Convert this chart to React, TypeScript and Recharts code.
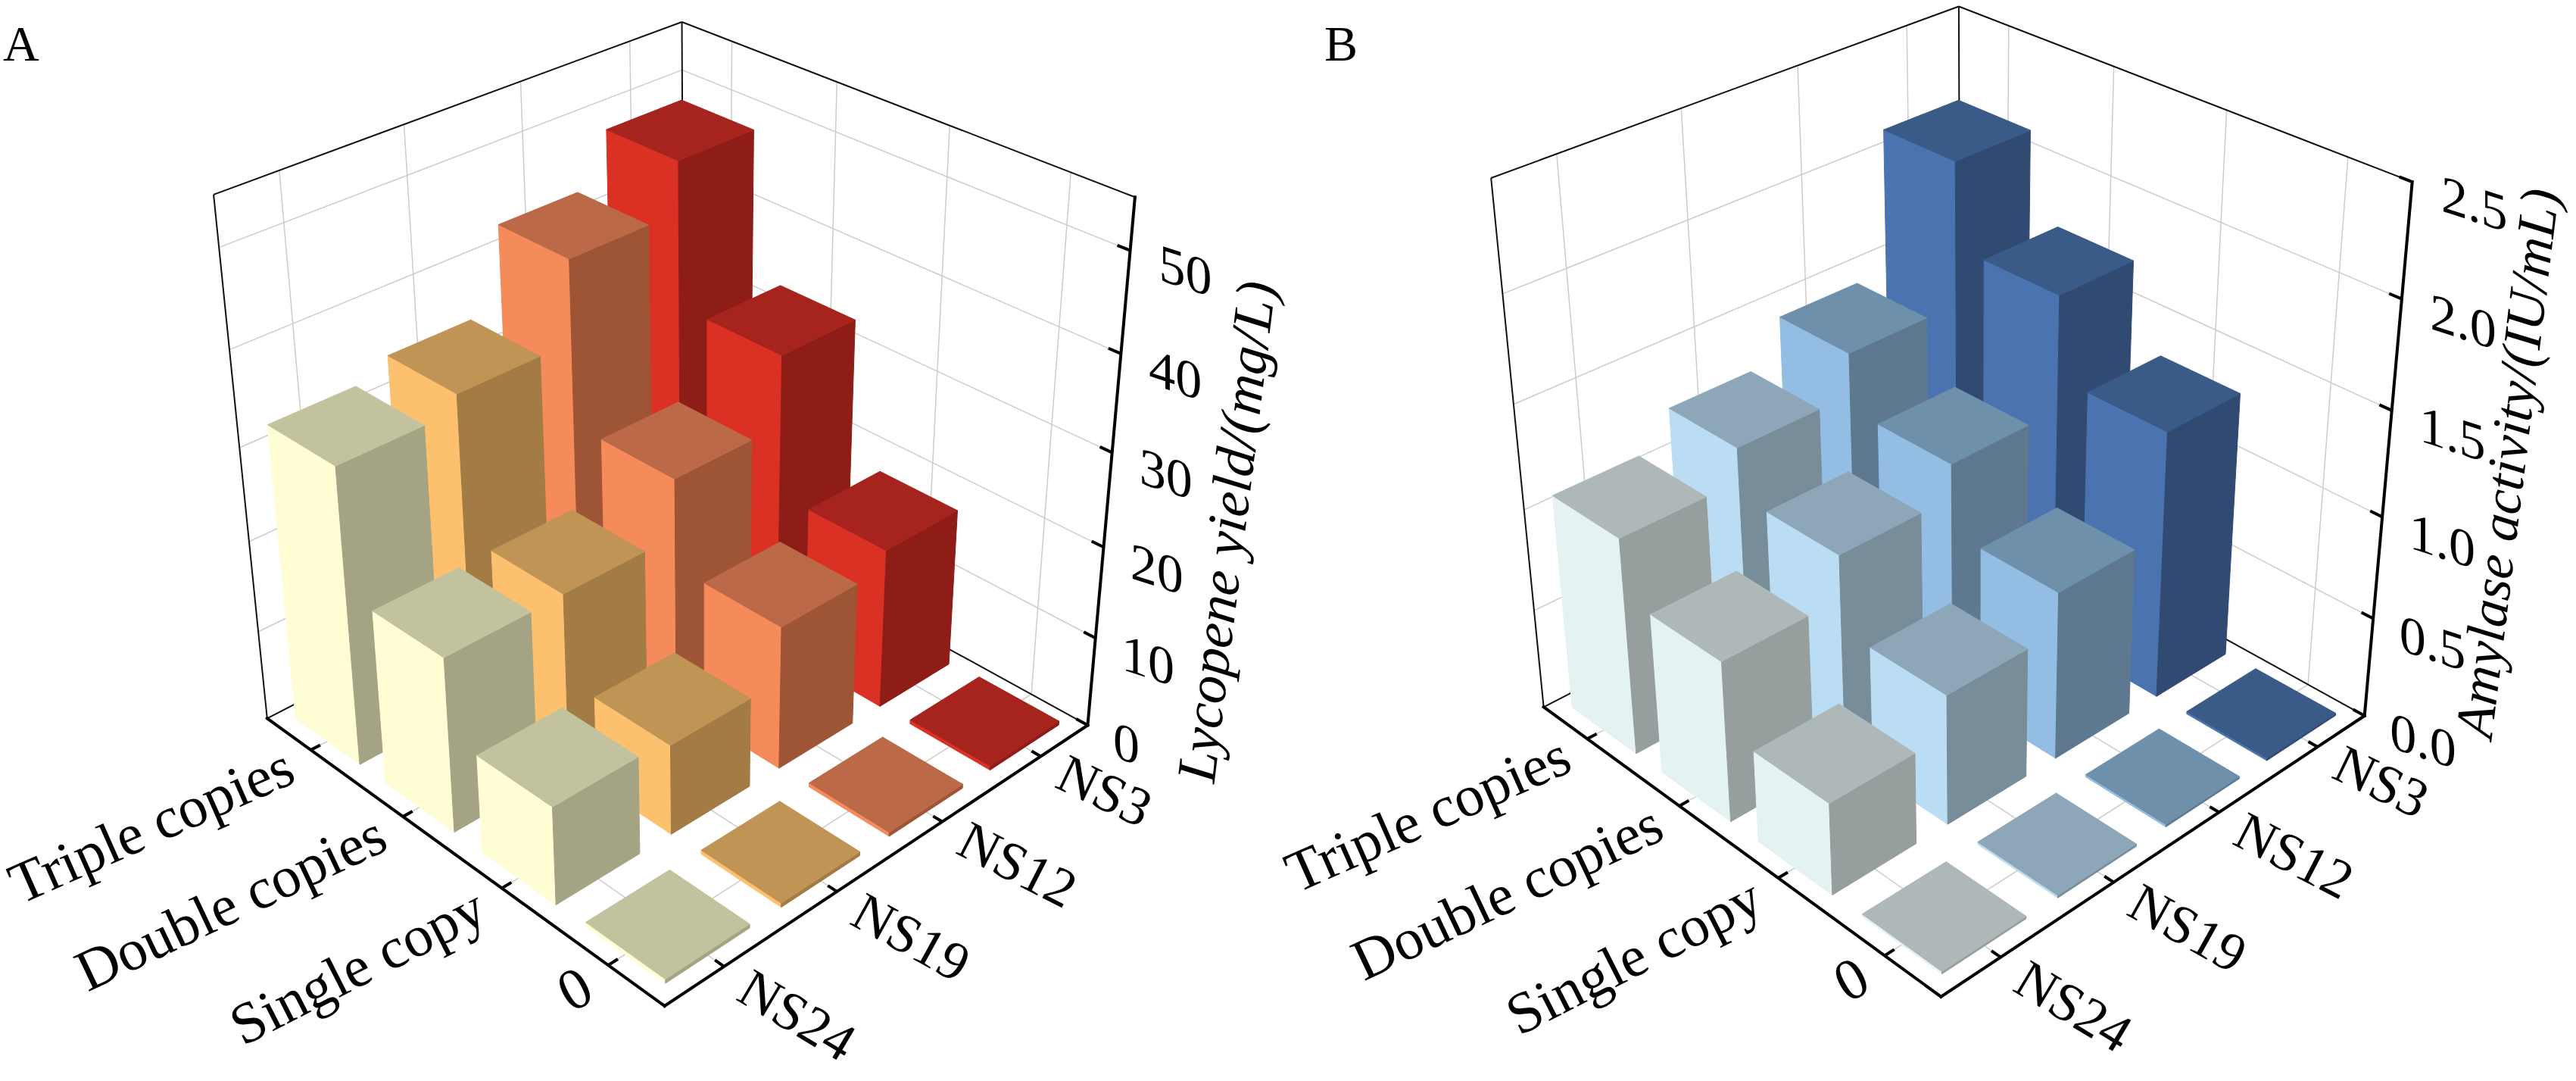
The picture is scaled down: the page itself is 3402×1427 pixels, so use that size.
import React from 'react';
import { ScatterChart, Scatter, XAxis, YAxis, ReferenceArea } from 'recharts';

const PANEL_W = 1701;
const PANEL_H = 1427;
const SERIF = "'Liberation Serif', 'Times New Roman', Times, serif";

// ---------- categories ----------
const siteLabels = ['NS24', 'NS19', 'NS12', 'NS3'];
const copyLabels = ['0', 'Single copy', 'Double copies', 'Triple copies'];

// ---------- panel A: lycopene yield (mg/L); order: 0 / single / double / triple copies ----------
const lycopeneNS24 = [0, 10.7, 19.1, 32.4];
const lycopeneNS19 = [0, 9.9, 19.2, 34.1];
const lycopeneNS12 = [0, 15.8, 25.3, 42.7];
const lycopeneNS3 = [0, 17.7, 32.8, 48.0];
const lycopeneTicks = [0, 10, 20, 30, 40, 50];

// ---------- panel B: amylase activity (IU/mL) ----------
const amylaseNS24 = [0, 0.45, 0.79, 1.07];
const amylaseNS19 = [0, 0.64, 1.0, 1.23];
const amylaseNS12 = [0, 0.83, 1.16, 1.43];
const amylaseNS3 = [0, 1.32, 1.71, 2.11];
const amylaseTicks = [0, 0.5, 1.0, 1.5, 2.0, 2.5];

// ---------- styles: per site [left face, top face, right face] ----------
const lycopeneColors = [
  ['#FFFDD4', '#C2C29E', '#A4A485'],
  ['#FCC06F', '#C09454', '#A27B45'],
  ['#F58A5A', '#BB6947', '#9D5535'],
  ['#DA3124', '#A6231E', '#8E1D18'],
];
const amylaseColors = [
  ['#E4F2F2', '#AFB8B9', '#969E9E'],
  ['#BBDDF3', '#8DA7B9', '#788D9A'],
  ['#93BDE2', '#6F90AB', '#5E798F'],
  ['#4A73B0', '#3A5A88', '#314A72'],
];

// ---------- 3D view frame (layout): where the corners of the plot box land in the panel ----------
// [siteAxis 0..4, copyAxis 0..4, height fraction 0..1, viewX, viewY]
const frameA = [
  [0, 0, 0, 878, 1328], [4, 0, 0, 1436, 960], [0, 4, 0, 353, 948],
  [0, 4, 1, 282, 257], [4, 4, 1, 900, 29], [4, 0, 1, 1499, 260],
  [4, 0, 10 / 55, 1447, 840], [4, 0, 20 / 55, 1457, 722], [4, 0, 30 / 55, 1469, 596],
  [4, 0, 40 / 55, 1480, 467], [4, 0, 50 / 55, 1493, 332],
  [0.5, 4, 1, 368, 225], [1.5, 4, 1, 534, 164], [2.5, 4, 1, 687, 108], [3.5, 4, 1, 833, 54],
];
const frameB = [
  [0, 0, 0, 863, 1316], [4, 0, 0, 1421, 947], [0, 4, 0, 338, 933],
  [0, 4, 1, 268, 235], [4, 4, 1, 887, 8], [4, 0, 1, 1485, 242],
  [4, 0, 0.2, 1433, 816], [4, 0, 0.4, 1445, 681], [4, 0, 0.6, 1458, 540], [4, 0, 0.8, 1471, 394],
  [0.5, 4, 1, 355, 203], [1.5, 4, 1, 518, 143], [2.5, 4, 1, 673, 87], [3.5, 4, 1, 817, 34],
];

type Pt = [number, number];

// perspective camera fitted (DLT least squares) to the view frame
function fitCamera(anchors: number[][]) {
  const S = 1000;
  const N = 11;
  const A: number[][] = Array.from({ length: N }, () => new Array(N + 1).fill(0));
  const acc = (row: number[], b: number) => {
    for (let r = 0; r < N; r++) {
      for (let c = 0; c < N; c++) A[r][c] += row[r] * row[c];
      A[r][N] += row[r] * b;
    }
  };
  anchors.forEach(([X, Y, Zn, u0, v0]) => {
    const Z = Zn * 4;
    const u = u0 / S;
    const v = v0 / S;
    acc([X, Y, Z, 1, 0, 0, 0, 0, -u * X, -u * Y, -u * Z], u);
    acc([0, 0, 0, 0, X, Y, Z, 1, -v * X, -v * Y, -v * Z], v);
  });
  for (let c = 0; c < N; c++) {
    let piv = c;
    for (let r = c + 1; r < N; r++) if (Math.abs(A[r][c]) > Math.abs(A[piv][c])) piv = r;
    const tmp = A[c];
    A[c] = A[piv];
    A[piv] = tmp;
    for (let r = 0; r < N; r++) {
      if (r === c) continue;
      const f = A[r][c] / A[c][c];
      if (f === 0) continue;
      for (let k = c; k <= N; k++) A[r][k] -= f * A[c][k];
    }
  }
  const p = A.map((row, i) => row[N] / row[i]);
  return (X: number, Y: number, Zn: number): Pt => {
    const Z = Zn * 4;
    const w = p[8] * X + p[9] * Y + p[10] * Z + 1;
    return [
      (S * (p[0] * X + p[1] * Y + p[2] * Z + p[3])) / w,
      (S * (p[4] * X + p[5] * Y + p[6] * Z + p[7])) / w,
    ];
  };
}

// A reference area spanning the bbox of a group of view points; the library's scales give the
// pixel rectangle, into which the group is mapped.
function area(key: string, pts: Pt[], draw: (m: (p: Pt) => string) => React.ReactNode) {
  const xs = pts.map((p) => p[0]);
  const ys = pts.map((p) => p[1]);
  const x1 = Math.min(...xs) - 1;
  const x2 = Math.max(...xs) + 1;
  const y1 = Math.min(...ys) - 1;
  const y2 = Math.max(...ys) + 1;
  const shape = (r: any) => {
    const m = (p: Pt) => {
      const px = r.x + ((p[0] - x1) / (x2 - x1)) * r.width;
      const py = r.y + ((p[1] - y1) / (y2 - y1)) * r.height;
      return `${px.toFixed(2)},${py.toFixed(2)}`;
    };
    return <g>{draw(m)}</g>;
  };
  return (
    <ReferenceArea key={key} x1={x1} x2={x2} y1={y1} y2={y2} ifOverflow="visible" shape={shape} />
  );
}

const angleOf = (a: Pt, b: Pt) => (Math.atan2(b[1] - a[1], b[0] - a[0]) * 180) / Math.PI;

interface PanelCfg {
  values: number[][];
  ticks: number[];
  fmt: (v: number) => string;
  zMax: number;
  slab: number;
  title: string;
  titleAt: number[];
  titleSize: number;
  frame: number[][];
  colors: string[][];
}

const panelA: PanelCfg = {
  values: [lycopeneNS24, lycopeneNS19, lycopeneNS12, lycopeneNS3],
  ticks: lycopeneTicks,
  fmt: (v) => String(v),
  zMax: 55,
  slab: 0.45,
  title: 'Lycopene yield/(mg/L)',
  titleAt: [4, -0.92, 0.5],
  titleSize: 74,
  frame: frameA,
  colors: lycopeneColors,
};

const panelB: PanelCfg = {
  values: [amylaseNS24, amylaseNS19, amylaseNS12, amylaseNS3],
  ticks: amylaseTicks,
  fmt: (v) => v.toFixed(1),
  zMax: 2.5,
  slab: 0.012,
  title: 'Amylase activity/(IU/mL)',
  titleAt: [4, -0.9, 0.6],
  titleSize: 72,
  frame: frameB,
  colors: amylaseColors,
};

const HALF = 0.36;
const centers = [0.5, 1.5, 2.5, 3.5];

function Panel({ cfg }: { cfg: PanelCfg }) {
  const proj = fitCamera(cfg.frame);
  const P = (X: number, Y: number, z: number): Pt => proj(X, Y, z / cfg.zMax);
  const zTop = cfg.zMax;
  const gridZ = cfg.ticks.filter((t) => t > 0 && t < zTop - 1e-9);

  const gridLines: Pt[][] = [];
  gridZ.forEach((z) => {
    gridLines.push([P(0, 4, z), P(4, 4, z)]);
    gridLines.push([P(4, 4, z), P(4, 0, z)]);
  });
  centers.forEach((c) => {
    gridLines.push([P(c, 4, 0), P(c, 4, zTop)]);
    gridLines.push([P(4, c, 0), P(4, c, zTop)]);
    gridLines.push([P(c, 0, 0), P(c, 4, 0)]);
    gridLines.push([P(0, c, 0), P(4, c, 0)]);
  });
  const frameLines: Pt[][] = [
    [P(0, 4, zTop), P(4, 4, zTop)],
    [P(4, 4, zTop), P(4, 0, zTop)],
    [P(0, 4, 0), P(0, 4, zTop)],
    [P(4, 4, 0), P(4, 4, zTop)],
    [P(0, 4, 0), P(4, 4, 0)],
    [P(4, 4, 0), P(4, 0, 0)],
  ];
  const backPts = [...gridLines.flat(), ...frameLines.flat()];

  // bars, back to front
  const cells: { i: number; j: number; v: number }[] = [];
  cfg.values.forEach((arr, i) => arr.forEach((v, j) => cells.push({ i, j, v })));
  cells.sort((a, b) => b.i + b.j - (a.i + a.j));

  const barAreas = cells.map(({ i, j, v }) => {
    const h = Math.max(v, cfg.slab);
    const x0 = i + 0.5 - HALF;
    const x1 = i + 0.5 + HALF;
    const y0 = j + 0.5 - HALF;
    const y1 = j + 0.5 + HALF;
    const left: Pt[] = [P(x0, y0, 0), P(x0, y1, 0), P(x0, y1, h), P(x0, y0, h)];
    const right: Pt[] = [P(x0, y0, 0), P(x1, y0, 0), P(x1, y0, h), P(x0, y0, h)];
    const top: Pt[] = [P(x0, y0, h), P(x1, y0, h), P(x1, y1, h), P(x0, y1, h)];
    const col = cfg.colors[i];
    const faces: [Pt[], string][] = [
      [left, col[0]],
      [right, col[2]],
      [top, col[1]],
    ];
    return area(`bar-${i}-${j}`, [...left, ...right, ...top], (m) =>
      faces.map(([pts, fill], k) => (
        <polygon key={k} points={pts.map(m).join(' ')} fill={fill} stroke={fill} strokeWidth={1} strokeLinejoin="round" />
      )),
    );
  });

  // front axes + ticks (ticks point inward)
  const axisLines: Pt[][] = [
    [P(0, 0, 0), P(4, 0, 0)],
    [P(0, 0, 0), P(0, 4, 0)],
    [P(4, 0, 0), P(4, 0, zTop)],
  ];
  const tickLines: Pt[][] = [];
  centers.forEach((c) => {
    tickLines.push([P(c, 0, 0), P(c, 0.08, 0)]);
    tickLines.push([P(0, c, 0), P(0.08, c, 0)]);
  });
  cfg.ticks.forEach((t) => tickLines.push([P(4, 0, t), P(4, 0.1, t)]));

  // labels (positions through the scatter's scales)
  const copyPts = copyLabels.map((text, j) => {
    const at = P(-0.19, j + 0.48, 0);
    return { sx: at[0], sy: at[1], text, angle: angleOf(at, P(0.81, j + 0.48, 0)) + 4 };
  });
  const sitePts = siteLabels.map((text, i) => {
    const at = P(i + 0.48, -0.19, 0);
    return { sx: at[0], sy: at[1], text, angle: angleOf(at, P(i + 0.48, -1.19, 0)) - 4 };
  });
  const tickPts = cfg.ticks.map((t) => {
    const at = P(4, -0.22, t);
    return { sx: at[0], sy: at[1], text: cfg.fmt(t) };
  });
  const tAt = P(cfg.titleAt[0], cfg.titleAt[1], cfg.titleAt[2] * zTop);
  const titlePts = [{ sx: tAt[0], sy: tAt[1], text: cfg.title }];

  const copyShape = (p: any) => (
    <text transform={`translate(${p.cx},${p.cy}) rotate(${p.payload.angle})`} textAnchor="end" dominantBaseline="central" fontFamily={SERIF} fontSize={77} fill="#000">
      {p.payload.text}
    </text>
  );
  const siteShape = (p: any) => (
    <text transform={`translate(${p.cx},${p.cy}) rotate(${p.payload.angle})`} textAnchor="start" dominantBaseline="central" fontFamily={SERIF} fontSize={72} fill="#000">
      {p.payload.text}
    </text>
  );
  const tickShape = (p: any) => (
    <text transform={`translate(${p.cx},${p.cy}) skewY(18)`} textAnchor="start" dominantBaseline="central" fontFamily={SERIF} fontSize={70} fill="#000">
      {p.payload.text}
    </text>
  );
  const titleShape = (p: any) => (
    <text transform={`translate(${p.cx},${p.cy}) rotate(-83)`} textAnchor="middle" dominantBaseline="central" fontFamily={SERIF} fontStyle="italic" fontSize={cfg.titleSize} fill="#000">
      {p.payload.text}
    </text>
  );

  return (
    <ScatterChart width={PANEL_W} height={PANEL_H} margin={{ top: 0, right: 0, bottom: 0, left: 0 }}>
      <XAxis type="number" dataKey="sx" domain={[0, PANEL_W]} hide height={0} />
      <YAxis type="number" dataKey="sy" domain={[0, PANEL_H]} hide reversed width={0} />
      {area('back', backPts, (m) => (
        <g>
          {gridLines.map((l, k) => (
            <path key={`g${k}`} d={`M${m(l[0])}L${m(l[1])}`} stroke="#cccccc" strokeWidth={1.5} fill="none" />
          ))}
          {frameLines.map((l, k) => (
            <path key={`f${k}`} d={`M${m(l[0])}L${m(l[1])}`} stroke="#111" strokeWidth={2} fill="none" />
          ))}
        </g>
      ))}
      {barAreas}
      {area('front', [...axisLines.flat(), ...tickLines.flat()], (m) => (
        <g>
          {axisLines.map((l, k) => (
            <path key={`a${k}`} d={`M${m(l[0])}L${m(l[1])}`} stroke="#000" strokeWidth={4} fill="none" strokeLinecap="square" />
          ))}
          {tickLines.map((l, k) => (
            <path key={`t${k}`} d={`M${m(l[0])}L${m(l[1])}`} stroke="#000" strokeWidth={4} fill="none" />
          ))}
        </g>
      ))}
      <Scatter name="copy labels" data={copyPts} shape={copyShape} isAnimationActive={false} />
      <Scatter name="site labels" data={sitePts} shape={siteShape} isAnimationActive={false} />
      <Scatter name="tick labels" data={tickPts} shape={tickShape} isAnimationActive={false} />
      <Scatter name="axis title" data={titlePts} shape={titleShape} isAnimationActive={false} />
    </ScatterChart>
  );
}

export default function App() {
  return (
    <div style={{ position: 'absolute', left: 0, top: 0, width: 3402, height: 1427, background: '#fff', overflow: 'hidden' }}>
      <style>{`.recharts-surface{overflow:visible}.recharts-wrapper{overflow:visible}`}</style>
      <div style={{ position: 'absolute', left: 0, top: 0 }}>
        <Panel cfg={panelA} />
      </div>
      <div style={{ position: 'absolute', left: PANEL_W, top: 0 }}>
        <Panel cfg={panelB} />
      </div>
      <svg width={3402} height={120} style={{ position: 'absolute', left: 0, top: 0, pointerEvents: 'none' }}>
        <text x={4} y={80} fontFamily={SERIF} fontSize={66} fill="#000">A</text>
        <text x={1749} y={80} fontFamily={SERIF} fontSize={66} fill="#000">B</text>
      </svg>
    </div>
  );
}
